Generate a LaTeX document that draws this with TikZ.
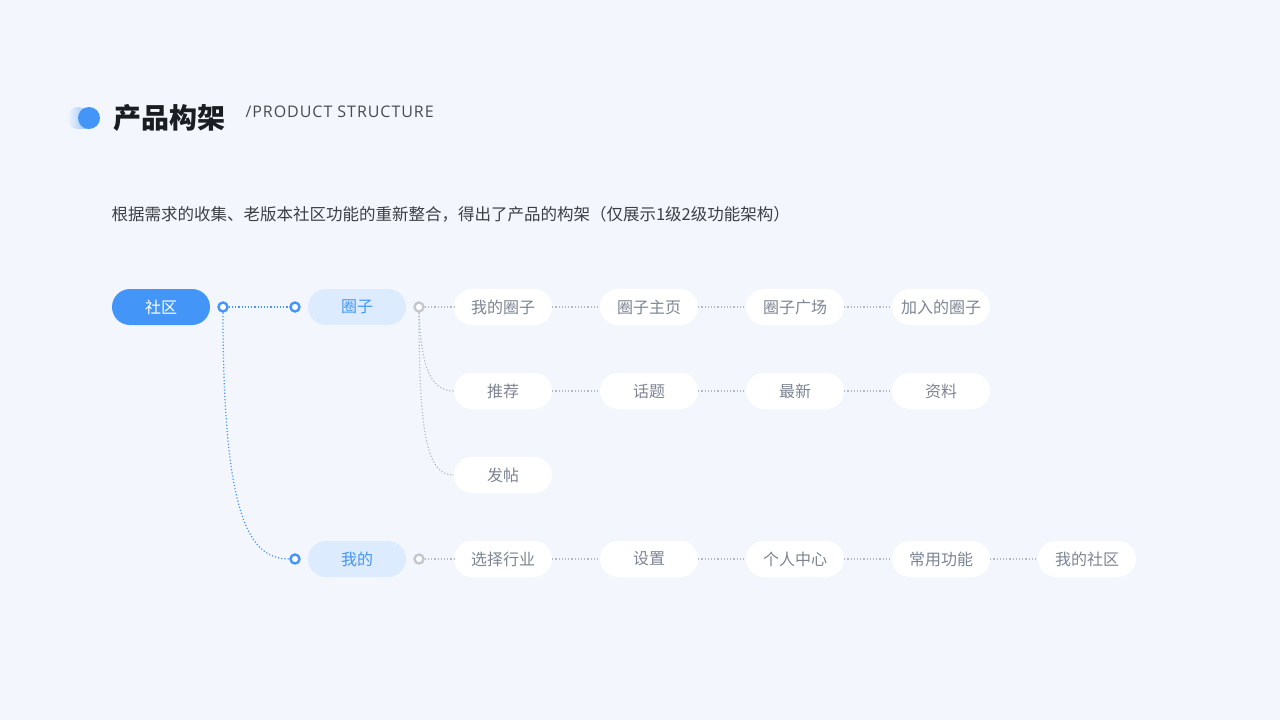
\documentclass[tikz,border=0pt]{standalone}
\usepackage{fontspec}
\setmainfont{Noto Sans CJK SC}
\newfontfamily\latinfont[LetterSpace=6]{Open Sans}
\usetikzlibrary{positioning}
\definecolor{bgblue}{HTML}{F3F7FD}
\definecolor{mainblue}{HTML}{4396F7}
\definecolor{paleblue}{HTML}{DCEBFD}
\definecolor{txtgrey}{HTML}{7D8593}
\definecolor{linegrey}{HTML}{B5BAC2}
\definecolor{titleink}{HTML}{1A1D22}

\begin{document}
\begin{tikzpicture}[x=1pt,y=-1pt]
    \tikzstyle{pill}=[rounded corners=18pt,minimum width=98pt,minimum height=36pt,inner sep=0pt,font=\fontsize{16}{16}\selectfont]
    \tikzstyle{root pill}=[pill, fill=mainblue, text=white]
    \tikzstyle{mid pill}=[pill, fill=paleblue, text=mainblue]
    \tikzstyle{leaf pill}=[pill, fill=white, text=txtgrey]
    \tikzstyle{bluedot}=[circle,draw=mainblue,fill=white,line width=2.4pt,minimum size=9pt,inner sep=0pt]
    \tikzstyle{greydot}=[circle,draw=linegrey!80,fill=white,line width=2.4pt,minimum size=9pt,inner sep=0pt]
    \tikzstyle{blue link}=[draw=mainblue,dotted,line width=1.2pt]
    \tikzstyle{grey link}=[draw=linegrey,dotted,line width=1.2pt]

    % background
    \fill[bgblue] (0,0) rectangle (1280,720);
    \useasboundingbox (0,0) rectangle (1280,720);

    % title
    \shade[left color=white,right color=mainblue!60] (66,108) rectangle (88,128);
    \fill[bgblue] (66,100) rectangle (76,136);
    \begin{scope}
        \clip (78,118) circle (11);
        \shade[left color=bgblue,right color=mainblue!60] (67,107) rectangle (89,129);
    \end{scope}
    \fill[bgblue] (66,100) rectangle (90,106);
    \fill[bgblue] (66,130) rectangle (90,136);
    \fill[mainblue] (89,118) circle (11);
    \node[anchor=west,text=titleink,font=\fontsize{28}{28}\selectfont\bfseries] (title) at (110,118) {产品构架};
    \node[anchor=west,text=titleink!80,font=\fontsize{16}{16}\latinfont] (subtitle) at (242,112) {/PRODUCT STRUCTURE};
    \node[anchor=west,text=titleink!85,font=\fontsize{16.5}{16.5}\selectfont] (intro) at (108,214) {根据需求的收集、老版本社区功能的重新整合，得出了产品的构架（仅展示1级2级功能架构）};

    % main nodes
    \node[root pill] (shequ) at (161,307) {社区};
    \node[mid pill] (quanzi) at (357,307) {圈子};
    \node[mid pill] (wode) at (357,559) {我的};

    \node[bluedot] (d0) at (223,307) {};
    \node[bluedot] (d1) at (295,307) {};
    \node[bluedot] (d2) at (295,559) {};
    \node[greydot] (g1) at (419,307) {};
    \node[greydot] (g2) at (419,559) {};

    \path[blue link] (d0) -- (d1);
    \path[blue link] (d0) .. controls (223,520) and (250,559) .. (d2);

    % 圈子 rows
    \foreach \t [count=\i] in {我的圈子,圈子主页,圈子广场,加入的圈子}{
        \pgfmathsetmacro\xx{503+(\i-1)*146}
        \node[leaf pill] (A-\i) at (\xx,307) {\t};
    }
    \foreach \t [count=\i] in {推荐,话题,最新,资料}{
        \pgfmathsetmacro\xx{503+(\i-1)*146}
        \node[leaf pill] (B-\i) at (\xx,391) {\t};
    }
    \node[leaf pill] (C-1) at (503,475) {发帖};
    \foreach \t [count=\i] in {选择行业,设置,个人中心,常用功能,我的社区}{
        \pgfmathsetmacro\xx{503+(\i-1)*146}
        \node[leaf pill] (D-\i) at (\xx,559) {\t};
    }

    \path[grey link] (g1) -- (A-1);
    \path[grey link] (g1) .. controls (421,370) and (432,391) .. (B-1.west);
    \path[grey link] (g1) .. controls (419,440) and (428,475) .. (C-1.west);
    \path[grey link] (g2) -- (D-1);
    \foreach \a/\b in {1/2,2/3,3/4}{
        \path[grey link] (A-\a) -- (A-\b);
        \path[grey link] (B-\a) -- (B-\b);
    }
    \foreach \a/\b in {1/2,2/3,3/4,4/5}{
        \path[grey link] (D-\a) -- (D-\b);
    }
\end{tikzpicture}
\end{document}
